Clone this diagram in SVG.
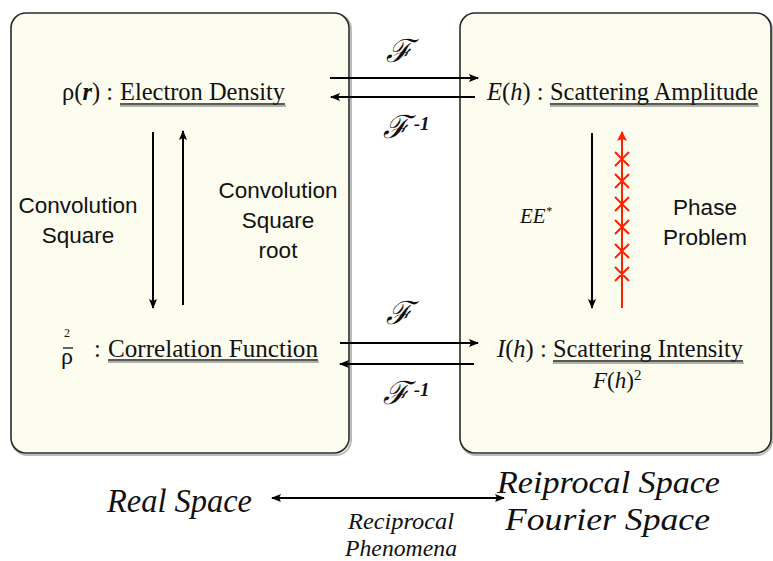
<svg xmlns="http://www.w3.org/2000/svg" width="773" height="561" viewBox="0 0 773 561">
<defs>
<marker id="ah" markerWidth="10" markerHeight="8" refX="9" refY="4" orient="auto" markerUnits="userSpaceOnUse">
<path d="M0,0 L10,4 L0,8 L2,4 Z" fill="#000"/>
</marker>
<marker id="ahs" markerWidth="10" markerHeight="8" refX="1" refY="4" orient="auto" markerUnits="userSpaceOnUse">
<path d="M10,0 L0,4 L10,8 L8,4 Z" fill="#000"/>
</marker>
<marker id="ahr" markerWidth="10" markerHeight="10" refX="9" refY="5" orient="auto" markerUnits="userSpaceOnUse">
<path d="M0,0 L10,5 L0,10 L2,5 Z" fill="#ff2000"/>
</marker>
</defs>
<style>
.box{fill:#fcfcef;stroke:#2a2a2a;stroke-width:1.6}
.shadow{fill:none;stroke:#bbb;stroke-width:2}
.t{font-family:"Liberation Serif","Times New Roman",serif;font-size:24.5px;fill:#111}
.s{font-family:"Liberation Sans",Arial,sans-serif;font-size:22.5px;fill:#111}
.it{font-style:italic}
.b{font-weight:bold}
.sc{font-family:"DejaVu Serif","Liberation Serif",serif;font-style:italic;font-size:32px;fill:#111}
.sup{font-family:"Liberation Serif",serif;font-weight:bold;font-size:19px}
.ln{stroke:#000;stroke-width:2;fill:none}
.ul{stroke:#222;stroke-width:1.4}
.uls{stroke:#999;stroke-width:1.6}
.red{stroke:#ff2000;stroke-width:2;fill:none}
</style>

<g id="real-box">
<rect class="shadow" x="12" y="14" width="339" height="441" rx="15"/>
<rect class="box" x="11" y="13" width="338" height="440" rx="15"/>
</g>
<g id="reciprocal-box">
<rect class="shadow" x="461" y="14" width="311" height="441" rx="15"/>
<rect class="box" x="460" y="13" width="311" height="440" rx="15"/>
</g>

<g id="electron-density">
<text class="t" x="62" y="100">ρ(<tspan class="b it">r</tspan>) :</text>
<text class="t" x="120" y="100" textLength="165" lengthAdjust="spacingAndGlyphs">Electron Density</text>
<line class="uls" x1="120" y1="106" x2="286" y2="106"/>
<line class="ul" x1="120" y1="104" x2="285" y2="104"/>
</g>

<g id="scattering-amplitude">
<text class="t" x="487" y="100"><tspan class="it">E</tspan>(<tspan class="it">h</tspan>) :</text>
<text class="t" x="550" y="100" textLength="208" lengthAdjust="spacingAndGlyphs">Scattering Amplitude</text>
<line class="uls" x1="550" y1="106" x2="759" y2="106"/>
<line class="ul" x1="550" y1="104" x2="758" y2="104"/>
</g>

<g id="correlation-function">
<text class="t" x="64" y="337" style="font-size:12px">2</text>
<line class="ul" x1="63" y1="348" x2="73" y2="348"/>
<text class="t" x="61" y="364" style="font-size:24px">ρ</text>
<text class="t" x="94" y="357">:</text>
<text class="t" x="108" y="357" textLength="210" lengthAdjust="spacingAndGlyphs">Correlation  Function</text>
<line class="uls" x1="108" y1="362" x2="319" y2="362"/>
<line class="ul" x1="108" y1="360" x2="318" y2="360"/>
</g>

<g id="scattering-intensity">
<text class="t" x="497" y="357"><tspan class="it">I</tspan>(<tspan class="it">h</tspan>) :</text>
<text class="t" x="553" y="357" textLength="190" lengthAdjust="spacingAndGlyphs">Scattering Intensity</text>
<line class="uls" x1="553" y1="363" x2="744" y2="363"/>
<line class="ul" x1="553" y1="361" x2="743" y2="361"/>
<text class="t" x="593" y="388" style="font-size:23px"><tspan class="it">F</tspan>(<tspan class="it">h</tspan>)<tspan dy="-8" style="font-size:15px">2</tspan></text>
</g>

<g id="connectors">
<line class="ln" x1="330" y1="78" x2="478" y2="78" marker-end="url(#ah)"/>
<line class="ln" x1="475" y1="97" x2="331" y2="97" marker-end="url(#ah)"/>
<line class="ln" x1="340" y1="343" x2="478" y2="343" marker-end="url(#ah)"/>
<line class="ln" x1="474" y1="364" x2="340" y2="364" marker-end="url(#ah)"/>
<line class="ln" x1="153" y1="132" x2="153" y2="308" marker-end="url(#ah)"/>
<line class="ln" x1="183" y1="305" x2="183" y2="131" marker-end="url(#ah)"/>
<line class="ln" x1="592" y1="133" x2="592" y2="308" marker-end="url(#ah)"/>
<line class="red" x1="622" y1="308" x2="622" y2="132" marker-end="url(#ahr)"/>
<path class="red" d="M615,152 l14,14 M629,152 l-14,14 M615,174 l14,14 M629,174 l-14,14 M615,197 l14,14 M629,197 l-14,14 M615,220 l14,14 M629,220 l-14,14 M615,244 l14,14 M629,244 l-14,14 M615,267 l14,14 M629,267 l-14,14"/>
<line class="ln" x1="272" y1="498" x2="504" y2="498" marker-start="url(#ahs)" marker-end="url(#ah)"/>
</g>

<g id="labels">
<text class="sc" x="386" y="62">ℱ</text>
<text class="sc" x="383" y="138">ℱ<tspan class="sup" dy="-8"> -1</tspan></text>
<text class="sc" x="386" y="324">ℱ</text>
<text class="sc" x="383" y="404">ℱ<tspan class="sup" dy="-8"> -1</tspan></text>
<text class="s" x="78" y="213" text-anchor="middle">Convolution</text>
<text class="s" x="78" y="243" text-anchor="middle">Square</text>
<text class="s" x="278" y="198" text-anchor="middle">Convolution</text>
<text class="s" x="278" y="228" text-anchor="middle">Square</text>
<text class="s" x="278" y="258" text-anchor="middle">root</text>
<text class="t it" x="520" y="223" style="font-size:21px">EE<tspan dy="-8" style="font-size:12px">*</tspan></text>
<text class="s" x="705" y="215" text-anchor="middle">Phase</text>
<text class="s" x="705" y="245" text-anchor="middle">Problem</text>
<text class="t it" x="107" y="512" style="font-size:34px" textLength="145" lengthAdjust="spacingAndGlyphs">Real Space</text>
<text class="t it" x="401" y="529" text-anchor="middle" style="font-size:24px" textLength="106" lengthAdjust="spacingAndGlyphs">Reciprocal</text>
<text class="t it" x="401" y="556" text-anchor="middle" style="font-size:24px" textLength="112" lengthAdjust="spacingAndGlyphs">Phenomena</text>
<text class="t it" x="497" y="493" style="font-size:31px" textLength="223" lengthAdjust="spacingAndGlyphs">Reiprocal Space</text>
<text class="t it" x="505" y="530" style="font-size:31px" textLength="205" lengthAdjust="spacingAndGlyphs">Fourier Space</text>
</g>
</svg>
